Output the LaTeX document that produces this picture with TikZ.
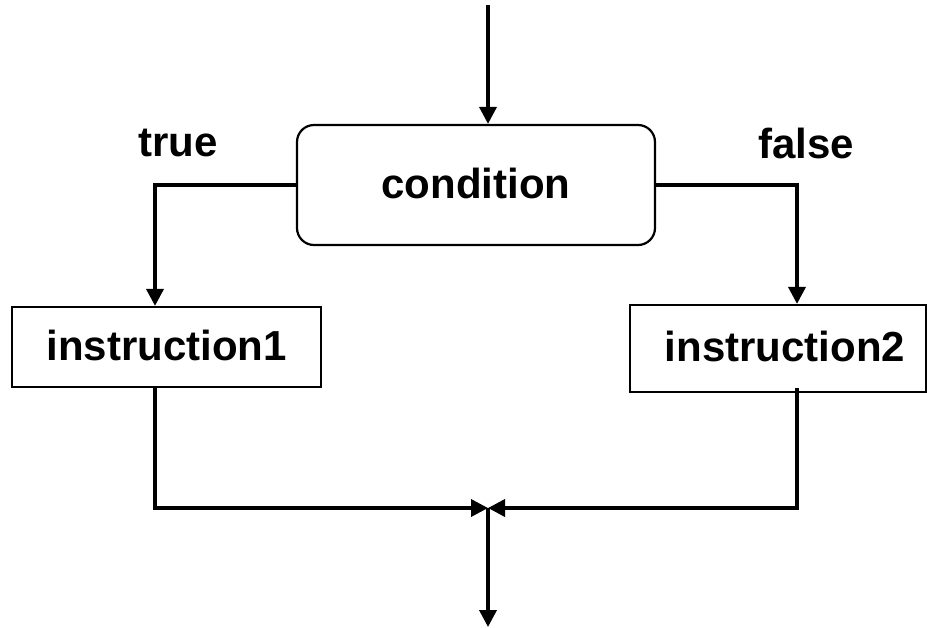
\documentclass[tikz,border=0pt]{standalone}
\usepackage{fontspec}
\setmainfont{Liberation Sans}
\usetikzlibrary{arrows.meta}
\begin{document}
\begin{tikzpicture}[x=1pt,y=-1pt,
  txt/.style={font=\fontsize{42}{50}\selectfont\bfseries, inner sep=0pt},
  boxbase/.style={draw, line width=2.2pt, fill=white, font=\fontsize{42}{50}\selectfont\bfseries, inner sep=0pt},
  conn/.style={line width=3.6pt, -{Triangle[width=17pt,length=17pt]}}]
\useasboundingbox (0,0) rectangle (927,627);
\node[boxbase, rounded corners=17pt, minimum width=358pt, minimum height=120pt] (cond) at (476,185) {\raisebox{4pt}{condition}};
\node[boxbase, minimum width=309pt, minimum height=80pt] (i1) at (166.5,347) {\raisebox{3pt}{instruction1}};
\node[boxbase, minimum width=296pt, minimum height=87pt] (i2) at (778,348.5) {\hspace*{14pt}\raisebox{5pt}{instruction2}};
\node[txt] (t) at (178,143) {true};
\node[txt] (f) at (806,143) {false};
\coordinate (top) at (488,5);
\coordinate (lx) at (155,0);
\coordinate (rx) at (797,0);
\coordinate (j) at (488,508);
\coordinate (end) at (488,627);
\draw[conn] (top) -- (cond.north -| top);
\draw[conn] (cond.west) -| (lx |- i1.north);
\draw[conn] (cond.east) -| (rx |- i2.north);
\draw[conn] (i1.south -| lx) |- (j);
\draw[conn] ([yshift=5pt]i2.south -| rx) |- (j);
\draw[conn] (j) -- (end);
\end{tikzpicture}
\end{document}
